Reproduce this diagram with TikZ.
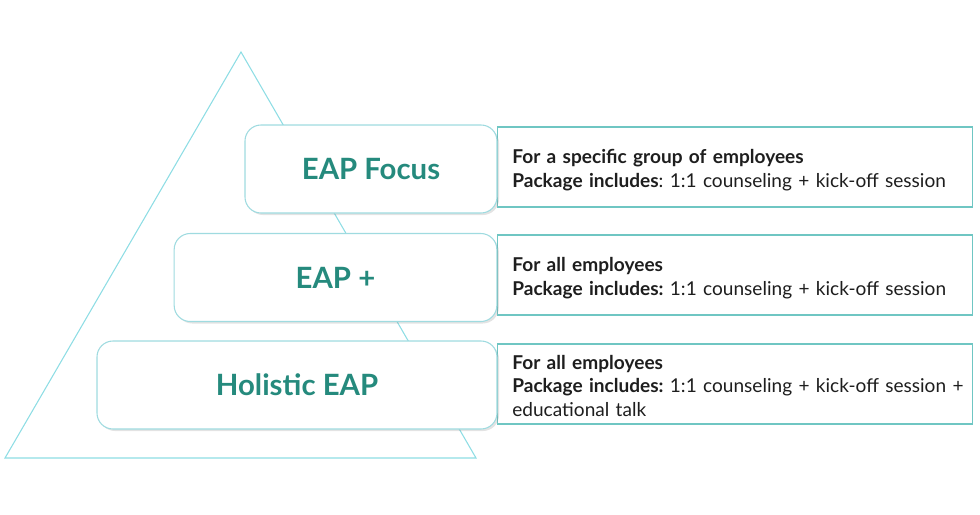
\documentclass[tikz,border=0pt]{standalone}
\usepackage{fontspec}
\setmainfont{Lato}
\usetikzlibrary{shadows}
\definecolor{trianglecyan}{HTML}{8EDDE4}
\definecolor{tierline}{HTML}{9FDBE0}
\definecolor{descline}{HTML}{6FC6C3}
\definecolor{tierteal}{HTML}{258A7D}
\definecolor{desctext}{HTML}{1E1E1E}
\begin{document}
\frenchspacing
\begin{tikzpicture}[x=0.75pt,y=0.75pt,line cap=round,
    tier/.style={draw=tierline,fill=white,rounded corners=12pt,line width=0.8pt,
      minimum height=66pt,text=tierteal,font=\fontsize{22}{26}\selectfont\bfseries,
      drop shadow={opacity=0.22,shadow xshift=1.5pt,shadow yshift=-1.5pt}},
    descbox/.style={draw=descline,fill=white,line width=0.8pt,anchor=west,
      minimum width=356pt,minimum height=60pt},
    desctxt/.style={anchor=west,inner sep=0pt,text width=340pt,align=left,
      text=desctext,font=\fontsize{14.3}{17.6}\selectfont}]
  \useasboundingbox (0,0) rectangle (980,-514);
  % ---------------- pyramid outline ----------------
  \draw[trianglecyan,line width=0.8pt,line join=miter] (241,-52) -- (476,-458) -- (5,-458) -- cycle;

  % ---------------- descriptions (behind the tiers) ----------------
  \node[descbox] (desc1) at (497,-167) {};
  \node[descbox] (desc2) at (497,-275) {};
  \node[descbox] (desc3) at (497,-384) {};
  \node[desctxt] (text1) at ([xshift=11.3pt,yshift=-2.4pt]desc1.west)
    {\textbf{For a specific group of employees}\\
     \textbf{Package includes}: 1:1 counseling + kick-off session};
  \node[desctxt] (text2) at ([xshift=11.3pt,yshift=-2.4pt]desc2.west)
    {\textbf{For all employees}\\
     \textbf{Package includes:} 1:1 counseling + kick-off session};
  \node[desctxt] (text3) at ([xshift=11.3pt,yshift=-1.2pt]desc3.west)
    {\textbf{For all employees}\\
     \textbf{Package includes:} 1:1 counseling + kick-off session +\\
     educational talk};

  % ---------------- tiers ----------------
  \node[tier,minimum width=189pt] (tier1) at (371,-169) {EAP Focus};
  \node[tier,minimum width=242pt] (tier2) at (335.5,-277.5) {EAP +};
  \node[tier,minimum width=300pt] (tier3) at (297,-385) {Holistic EAP};
\end{tikzpicture}
\end{document}
